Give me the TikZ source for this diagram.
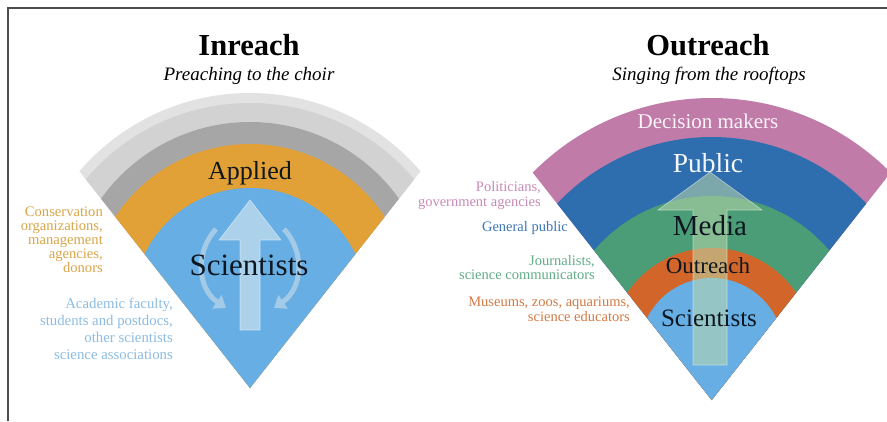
\documentclass[tikz,border=0pt]{standalone}
\usepackage{fontspec}
\setmainfont{Liberation Serif}
\usetikzlibrary{arrows.meta}
\definecolor{frameC}{HTML}{4D4D4D}
\definecolor{skyC}{HTML}{66AEE4}
\definecolor{goldC}{HTML}{E1A136}
\definecolor{dgrayC}{HTML}{A6A6A6}
\definecolor{mgrayC}{HTML}{D2D2D2}
\definecolor{lgrayC}{HTML}{E2E2E2}
\definecolor{pinkC}{HTML}{C07BA8}
\definecolor{navyC}{HTML}{2F6EAE}
\definecolor{greenC}{HTML}{4A9D77}
\definecolor{rustC}{HTML}{D2662A}
\definecolor{tConsC}{HTML}{D9A548}
\definecolor{tAcadC}{HTML}{8CBCE3}
\definecolor{tPolC}{HTML}{C98BB7}
\definecolor{tGenC}{HTML}{3C77B7}
\definecolor{tJouC}{HTML}{62AC89}
\definecolor{tMusC}{HTML}{D27A45}
\definecolor{inkC}{HTML}{0E1620}
\definecolor{arrLC}{HTML}{D8E8F0}
\definecolor{arrRC}{HTML}{BCD9AA}
\definecolor{curvC}{HTML}{A3CBE8}
\tikzset{
  lbl/.style={inner sep=0pt, align=right, anchor=north east},
  single/.style={inner sep=0pt, anchor=base east},
  ttl/.style={inner sep=0pt, anchor=base, font=\fontsize{30.5}{32}\selectfont\bfseries},
  sub/.style={inner sep=0pt, anchor=base, font=\fontsize{19}{21}\selectfont\itshape},
  band/.style={inner sep=0pt, anchor=base},
  curv/.style={curvC, line width=5pt, -{Triangle[length=11pt,width=16pt]}},
}
\begin{document}
\begin{tikzpicture}[x=1pt,y=-1pt]
\useasboundingbox (0,0) rectangle (887,421);
\fill[white] (0,0) rectangle (887,421);

% ---------------- Left fan (Inreach) ----------------
\coordinate (LA) at (250,388);
\begin{scope}
  \clip (LA) -- (45.4,128) -- (45.4,40) -- (454.6,40) -- (454.6,128) -- cycle;
  \fill[lgrayC] (250,318) circle[radius=225pt];
  \fill[mgrayC] (250,318) circle[radius=215pt];
  \fill[dgrayC] (250,305) circle[radius=183pt];
  \fill[goldC]  (250,305) circle[radius=161pt];
  \fill[skyC]   (250,305) circle[radius=117pt];
\end{scope}
% up arrow
\filldraw[fill=arrLC, fill opacity=0.62, draw=white, draw opacity=0.5, line width=0.6pt]
  (250,200) -- (281,240) -- (260,240) -- (260,330) -- (240,330) -- (240,240) -- (219,240) -- cycle;
% circular arrows
\coordinate (cl1) at (216,229);
\coordinate (cl2) at (226,308);
\coordinate (cr1) at (284,229);
\coordinate (cr2) at (274,308);
\draw[curv] (cl1) .. controls (195,252) and (197,288) .. (cl2);
\draw[curv] (cr1) .. controls (305,252) and (303,288) .. (cr2);

\node[ttl] (inreach) at (249,55) {Inreach};
\node[sub] (preach) at (249,80) {Preaching to the choir};
\node[band, font=\fontsize{26}{28}\selectfont, text=inkC] (applied) at (250,179) {Applied};
\node[band, font=\fontsize{31}{33}\selectfont, text=inkC] (sciL) at (249,275) {Scientists};

\node[lbl, font=\fontsize{14.6}{14}\selectfont, text=tConsC] (cons) at (103,207)
  {Conservation\\organizations,\\management\\agencies,\\donors};
\node[lbl, font=\fontsize{14.8}{17}\selectfont, text=tAcadC] (acad) at (173,298)
  {Academic faculty,\\students and postdocs,\\other scientists\\science associations};

% ---------------- Right fan (Outreach) ----------------
\coordinate (RA) at (711.7,400);
\begin{scope}
  \clip (RA) -- (499.2,130) -- (499.2,40) -- (924.2,40) -- (924.2,130) -- cycle;
  \fill[pinkC]  (711.7,350) circle[radius=252pt];
  \fill[navyC]  (711.7,350) circle[radius=213pt];
  \fill[greenC] (711.7,350) circle[radius=154pt];
  \fill[rustC]  (711.7,350) circle[radius=102pt];
  \fill[skyC]   (711.7,350) circle[radius=72pt];
\end{scope}
\filldraw[fill=arrRC, fill opacity=0.55, draw=white, draw opacity=0.5, line width=0.6pt]
  (710,172) -- (762,210) -- (727,210) -- (727,365) -- (693,365) -- (693,210) -- (658,210) -- cycle;

\node[ttl] (outreach) at (708,55) {Outreach};
\node[sub] (singing) at (709,80) {Singing from the rooftops};
\node[band, font=\fontsize{21}{23}\selectfont, text=white!92!pinkC] (dec) at (708,128) {Decision makers};
\node[band, font=\fontsize{27.5}{29}\selectfont, text=white!94!navyC] (pub) at (708,172) {Public};
\node[band, font=\fontsize{29}{31}\selectfont, text=inkC] (media) at (710,235) {Media};
\node[band, font=\fontsize{23}{25}\selectfont, text=inkC] (outr) at (708,273) {Outreach};
\node[band, font=\fontsize{25}{27}\selectfont, text=inkC] (sciR) at (709,326) {Scientists};

\node[lbl, font=\fontsize{14.5}{15}\selectfont, text=tPolC] (pol) at (541,181)
  {Politicians,\\government agencies};
\node[single, font=\fontsize{14.5}{15}\selectfont, text=tGenC] (gen) at (568,231) {General public};
\node[lbl, font=\fontsize{14.5}{14.5}\selectfont, text=tJouC] (jou) at (595,255)
  {Journalists,\\science communicators};
\node[lbl, font=\fontsize{14.5}{14.5}\selectfont, text=tMusC] (mus) at (630,297)
  {Museums, zoos, aquariums,\\science educators};

% frame
\draw[frameC, line width=2pt] (8.3,421) -- (8.3,8.3) -- (887,8.3);
\end{tikzpicture}
\end{document}
